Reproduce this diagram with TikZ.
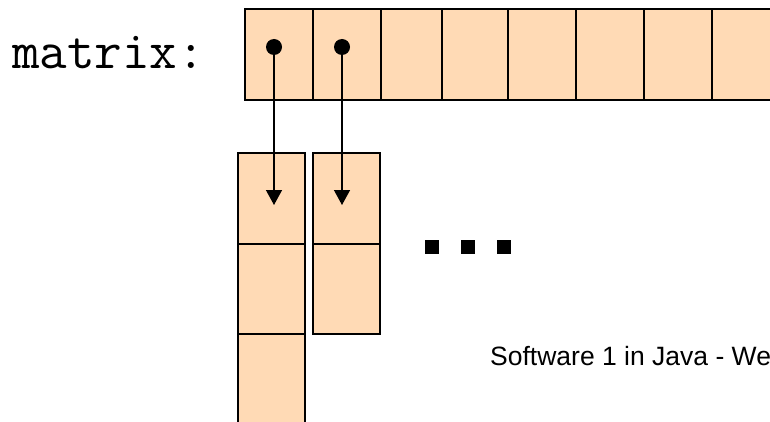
\documentclass[tikz,border=0pt]{standalone}
\usepackage{fontspec}
\setmainfont{Liberation Sans}
\usetikzlibrary{arrows.meta}
\definecolor{peach}{RGB}{255,218,181}
\tikzset{
  cell/.style={draw=black, fill=peach, line width=1.6pt, inner sep=0pt, outer sep=0pt, anchor=north west},
  pdot/.style={circle, fill=black, inner sep=0pt, minimum size=16pt},
  sq/.style={fill=black, inner sep=0pt, minimum size=14pt},
  ptr/.style={line width=1.4pt, -{Triangle[width=16pt,length=15pt]}}
}
\begin{document}
\begin{tikzpicture}[x=1pt,y=-1pt]
\useasboundingbox (0,0) rectangle (770,422);
\clip (0,0) rectangle (770,422);
% top row
\node[cell, minimum width=68pt, minimum height=91pt] (m1) at (245,9) {};
\node[cell, minimum width=68pt, minimum height=91pt] (m2) at (313,9) {};
\node[cell, minimum width=61pt, minimum height=91pt] (m3) at (381,9) {};
\node[cell, minimum width=66pt, minimum height=91pt] (m4) at (442,9) {};
\node[cell, minimum width=68pt, minimum height=91pt] (m5) at (508,9) {};
\node[cell, minimum width=68pt, minimum height=91pt] (m6) at (576,9) {};
\node[cell, minimum width=68pt, minimum height=91pt] (m7) at (644,9) {};
\node[cell, minimum width=68pt, minimum height=91pt] (m8) at (712,9) {};
% left column
\node[cell, minimum width=67pt, minimum height=91pt] (a1) at (238,153) {};
\node[cell, minimum width=67pt, minimum height=90pt] (a2) at (238,244) {};
\node[cell, minimum width=67pt, minimum height=95pt] (a3) at (238,334) {};
% right column
\node[cell, minimum width=67pt, minimum height=91pt] (b1) at (313,153) {};
\node[cell, minimum width=67pt, minimum height=90pt] (b2) at (313,244) {};
% pointers
\node[pdot] (d1) at (274,47) {};
\node[pdot] (d2) at (342,47) {};
\coordinate (t1) at (274,205);
\coordinate (t2) at (342,205);
\draw[ptr] (d1.center) -- (t1);
\draw[ptr] (d2.center) -- (t2);
% ellipsis squares
\node[sq] (s1) at (432,247) {};
\node[sq] (s2) at (468,247) {};
\node[sq] (s3) at (504,247) {};
% texts
\node[anchor=base west, inner sep=0pt, font=\ttfamily\fontsize{53.5}{53.5}\selectfont] (lbl) at (12,69) {matrix:};
\node[anchor=base west, inner sep=0pt, font=\fontsize{26.5}{26.5}\selectfont] (foot) at (490,365) {Software 1 in Java - We};
\end{tikzpicture}
\end{document}
